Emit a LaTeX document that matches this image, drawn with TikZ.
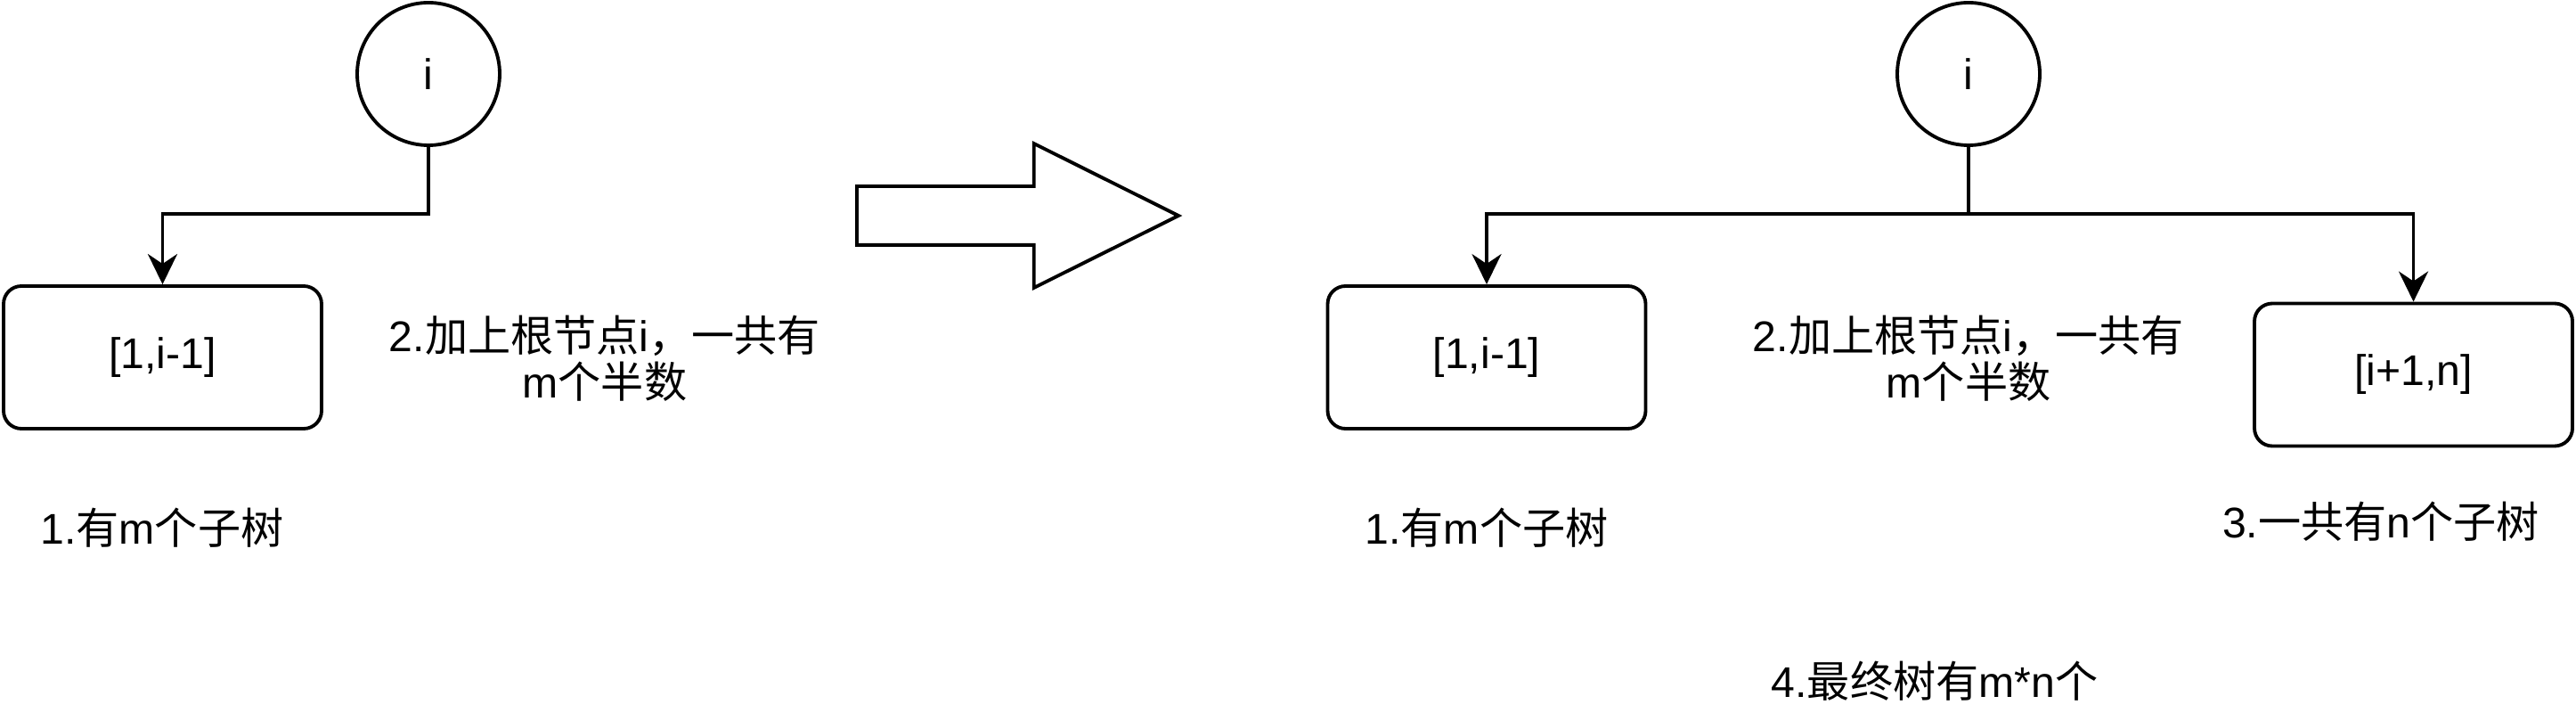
\documentclass[tikz,border=0pt]{standalone}
\usepackage{fontspec}
\setmainfont{Liberation Sans}
\newfontfamily\cjk{Noto Sans CJK SC}
\usetikzlibrary{arrows.meta,shapes.arrows}
\definecolor{nodestroke}{HTML}{000000}
\definecolor{nodefill}{HTML}{FFFFFF}
\tikzset{
  rootnode/.style={
    circle, draw=nodestroke, fill=nodefill, line width=1.1pt,
    minimum size=1.6cm, inner sep=0pt, font=\fontsize{13.7pt}{14.8pt}\selectfont
  },
  rangebox/.style={
    rectangle, rounded corners=0.2cm, draw=nodestroke, fill=nodefill, line width=1.1pt,
    minimum width=3.57cm, minimum height=1.6cm, inner sep=0pt,
    font=\fontsize{13.7pt}{14.8pt}\selectfont
  },
  note/.style={
    align=center, inner sep=0pt, font=\fontsize{13.7pt}{14.8pt}\selectfont
  },
  bigarrow/.style={
    single arrow, draw=nodestroke, fill=nodefill, line width=1.1pt,
    minimum height=3.61cm, inner xsep=0pt, inner ysep=0.31cm,
    single arrow head extend=0.48cm, single arrow head indent=0cm,
    single arrow tip angle=53
  },
  link/.style={
    -{Stealth[length=3.4mm,width=3.3mm,inset=1.1mm]}, draw=nodestroke, line width=1.1pt
  }
}

\begin{document}
\begin{tikzpicture}[x=1cm,y=1cm]
  \useasboundingbox (0,0) rectangle (28.92,8.08);

  % Before: root with left subtree only.
  \node[rootnode] (rootl) at (4.81,7.25) {i};
  \node[rangebox] (leftl) at (1.825,4.07) {[1,i-1]};
  \node[note] (rootnotel) at (6.79,4.06) {2.{\cjk 加上根节点}i{\cjk ，一共有}\\m{\cjk 个半数}};
  \node[note] (leftnotel) at (1.82,2.16) {1.{\cjk 有}m{\cjk 个子树}};
  \coordinate (forkl) at (4.81,5.68);
  \draw[link] (rootl.south) -- (forkl) -| (leftl.north);

  % Step between the two trees.
  \node[bigarrow] (step) at (11.095,5.66) {};

  % After: root with both subtrees.
  \node[rootnode] (rootr) at (22.10,7.25) {i};
  \node[rangebox] (leftr) at (16.69,4.07) {[1,i-1]};
  \node[rangebox] (rightr) at (27.095,3.875) {[i+1,n]};
  \node[note] (rootnoter) at (22.10,4.06) {2.{\cjk 加上根节点}i{\cjk ，一共有}\\m{\cjk 个半数}};
  \node[note] (leftnoter) at (16.69,2.16) {1.{\cjk 有}m{\cjk 个子树}};
  \node[note] (rightnoter) at (26.73,2.23) {3.{\cjk 一共有}n{\cjk 个子树}};
  \node[note] (totalnote) at (21.72,0.44) {4.{\cjk 最终树有}m*n{\cjk 个}};
  \coordinate (forkr) at (22.10,5.68);
  \draw[draw=nodestroke,line width=1.1pt] (rootr.south) -- (forkr);
  \draw[link] (forkr) -| (leftr.north);
  \draw[link] (forkr) -| (rightr.north);
\end{tikzpicture}
\end{document}
